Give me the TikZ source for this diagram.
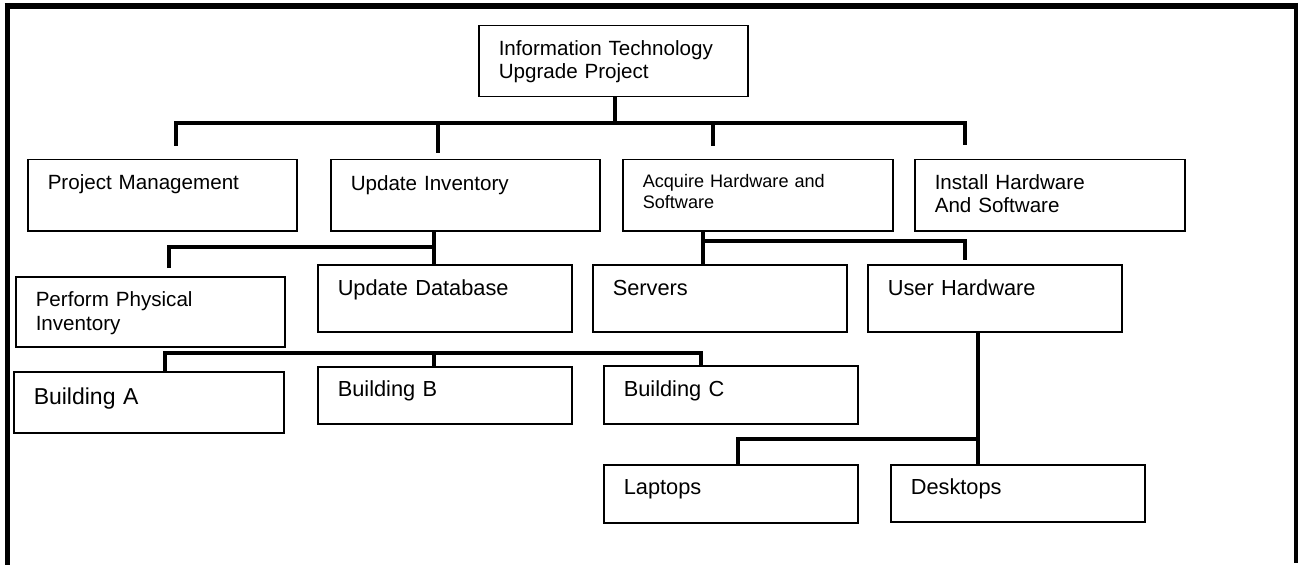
\documentclass[tikz,border=0pt]{standalone}
\usepackage{fontspec}
\setmainfont{Liberation Sans}

\begin{document}
\begin{tikzpicture}[x=1pt,y=-1pt,
 every node/.style={font=\fontsize{20.6}{23}\selectfont},
 box/.style={draw,line width=1.5pt,anchor=north west,inner xsep=20pt,inner ysep=0pt,
  align=left,text width=229pt,text height=30pt,text depth=41pt},
 lowbox/.style={box,font=\fontsize{21.8}{23}\selectfont,text width=214pt},
 bus/.style={draw,line width=4.5pt},
 frame/.style={draw,line width=#1}]
\useasboundingbox (0,0) rectangle (1298,580);
% outer frame, open at the bottom
\draw[frame=6pt] (4.5,6) -- (1298,6);
\draw[frame=5.5pt] (7.5,3) -- (7.5,565);
\draw[frame=4pt] (1296,3) -- (1296,563);
% top two levels
\node[box] (root) at (478,25) {Information Technology\\Upgrade Project};
\node[box] (pm) at (27,159) {Project Management};
\node[box,text height=31pt,text depth=40pt] (ui) at (330,159) {Update Inventory};
\node[box,font=\fontsize{18.1}{21}\selectfont,text width=230pt,text height=28pt,text depth=43pt] (ahs) at (622,159)
 {Acquire Hardware and\\Software};
\node[box,text width=230pt] (ihs) at (914,159) {Install Hardware\\And Software};
% third level
\node[box,font=\fontsize{20.6}{23.5}\selectfont,text depth=40pt] (ppi) at (15,276) {Perform Physical\\Inventory};
\node[lowbox,text height=31pt,text depth=36pt] (ud) at (317,264) {Update Database};
\node[lowbox,text height=31pt,text depth=36pt] (srv) at (592,264) {Servers};
\node[lowbox,text height=31pt,text depth=36pt] (uh) at (867,264) {User Hardware};
% buildings
\node[box,font=\fontsize{23}{25}\selectfont,text width=230pt,text height=33pt,text depth=28pt] (ba) at (13,371) {Building A};
\node[lowbox,text height=30pt,text depth=27pt] (bb) at (317,366) {Building B};
\node[lowbox,text height=31pt,text depth=27pt] (bc) at (603,365) {Building C};
% user hardware
\node[lowbox,text height=30pt,text depth=28pt] (lap) at (603,464) {Laptops};
\node[lowbox,text height=30pt,text depth=27pt] (desk) at (890,464) {Desktops};
% connectors
\coordinate (b1) at (615,123);
\coordinate (pmtop) at (176,146);
\coordinate (uitop) at (438,153);
\coordinate (ahtop) at (713,146);
\coordinate (ihtop) at (965,145);
\draw[bus] (b1 |- root.south) -- (b1);
\draw[bus] (pmtop) |- (b1) -| (ihtop);
\draw[bus] (uitop) -- (uitop |- b1);
\draw[bus] (ahtop) -- (ahtop |- b1);
\coordinate (b2) at (434,247);
\coordinate (ppitop) at (169,268);
\draw[bus] (b2 |- ui.south) -- (b2 |- ud.north);
\draw[bus] (ppitop) |- (b2);
\coordinate (b3) at (703,241);
\coordinate (uhtop) at (965,260);
\draw[bus] (b3 |- ahs.south) -- (b3 |- srv.north);
\draw[bus] (b3) -| (uhtop);
\coordinate (b4) at (434,353);
\draw[bus] (165,0 |- ba.north) |- (b4) -| (701,0 |- bc.north);
\draw[bus] (b4) -- (b4 |- bb.north);
\coordinate (b5) at (978,439);
\draw[bus] (b5 |- uh.south) -- (b5 |- desk.north);
\draw[bus] (b5) -| (738,0 |- lap.north);
\end{tikzpicture}
\end{document}
